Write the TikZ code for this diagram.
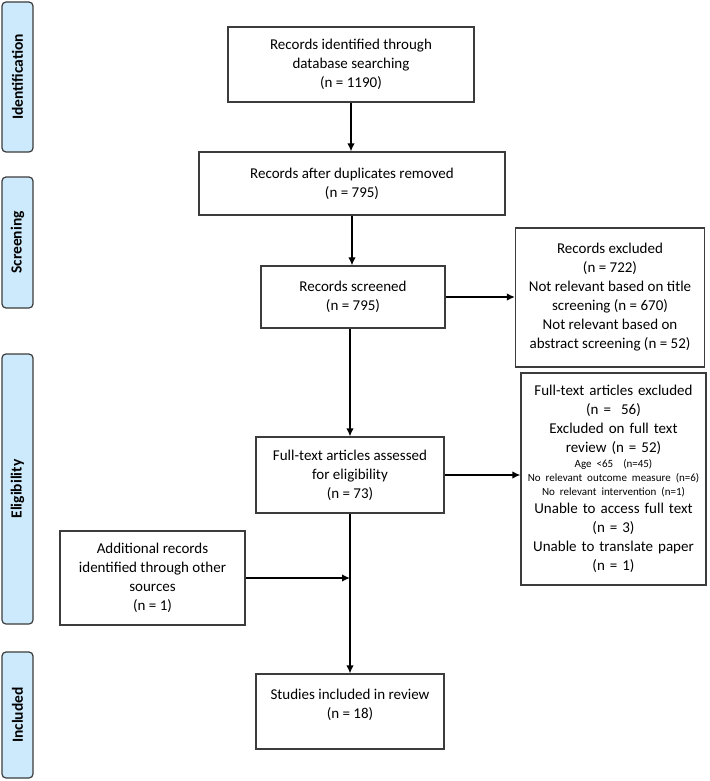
\documentclass[tikz,border=0pt]{standalone}
\usepackage{fontspec}
\setmainfont{Carlito}
\usetikzlibrary{arrows.meta}
\definecolor{sidefill}{RGB}{205,234,252}
\definecolor{boxgray}{RGB}{60,60,60}
\newcommand{\bigtxt}{\fontsize{15}{19}\selectfont}
\newcommand{\smltxt}{\fontsize{11}{14}\selectfont}
\begin{document}
\begin{tikzpicture}[x=1pt,y=-1pt,
  box/.style={draw=boxgray, line width=1.2pt, fill=white, inner sep=0pt, align=center, font=\bigtxt, text=black},
  side/.style={draw=boxgray, line width=1.2pt, fill=sidefill, rounded corners=4pt, inner sep=0pt, rotate=90, font=\fontsize{15.5}{18}\selectfont\bfseries, minimum height=31pt},
  arr/.style={line width=1.5pt, -{Latex[length=8pt,width=7.5pt]}}]
\useasboundingbox (0,0) rectangle (709,781);
\fill[white] (0,0) rectangle (709,781);
% side bars
\node[side, minimum width=150pt] (sid) at (17.5,77) {Identification};
\node[side, minimum width=131pt] (sscr) at (17.5,242.5) {Screening};
\node[side, minimum width=270pt] (selg) at (17.5,489) {Eligibility};
\node[side, minimum width=126pt] (sinc) at (17.5,715) {Included};
% boxes
\node[box, minimum width=246pt, minimum height=75pt] (ident) at (351,64.5) {Records identified through\\database searching\\(n = 1190)};
\node[box, minimum width=306pt, minimum height=63pt] (dedup) at (352,183.5) {Records after duplicates removed\\(n = 795)};
\node[box, minimum width=184pt, minimum height=62pt] (screen) at (353,297) {Records screened\\(n = 795)};
\node[box, minimum width=189pt, minimum height=139pt] (exclA) at (610,297.5) {Records excluded\\(n = 722)\\Not relevant based on title\\screening (n = 670)\\Not relevant based on\\abstract screening (n = 52)};
\node[box, minimum width=188pt, minimum height=76pt] (fulltext) at (350,475) {Full-text articles assessed\\for eligibility\\(n = 73)};
\node[box, minimum width=185pt, minimum height=212pt, text width=185pt] (exclB) at (613.5,479) {%
{\bigtxt Full-text articles excluded\\(n =~~56)\\Excluded on full text\\review (n = 52)\par}
{\smltxt\vspace{1pt}Age <65~~(n=45)\\No relevant outcome measure (n=6)\\No relevant intervention (n=1)\par}
{\bigtxt\vspace{-1pt}Unable to access full text\\(n = 3)\\Unable to translate paper\\(n = 1)\par}};
\node[box, minimum width=185pt, minimum height=94pt] (addl) at (152.5,578) {Additional records\\identified through other\\sources\\(n = 1)};
\node[box, minimum width=188pt, minimum height=75pt] (incl) at (350,711.5) {Studies included in review\\(n = 18)\\[-3pt]\mbox{}};
% arrows
\draw[arr] (ident.south) -- (ident.south |- dedup.north);
\draw[arr] (dedup.south) -- (dedup.south |- screen.north);
\draw[arr] (fulltext.north |- screen.south) -- (fulltext.north);
\draw[arr] (screen.east) -- (screen.east -| exclA.west);
\draw[arr] (fulltext.east) -- (fulltext.east -| exclB.west);
\draw[arr] (fulltext.south) -- (incl.north);
\draw[arr] (addl.east) -- (addl.east -| fulltext.south);
\end{tikzpicture}
\end{document}
